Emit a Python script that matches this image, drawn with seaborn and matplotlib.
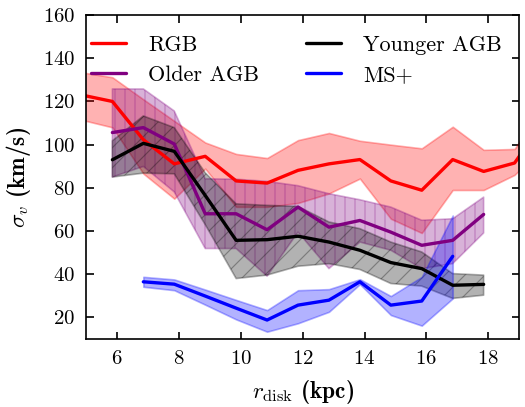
import matplotlib
matplotlib.use("Agg")
import matplotlib.pyplot as plt
import seaborn as sns

# radial bins (kpc)
r_rgb = [4.85, 5.85, 6.85, 7.85, 8.85, 9.85, 10.85, 11.85, 12.85, 13.85, 14.85, 15.85, 16.85, 17.85, 18.85, 19.85]
r_agb = [5.85, 6.85, 7.85, 8.85, 9.85, 10.85, 11.85, 12.85, 13.85, 14.85, 15.85, 16.85, 17.85]
r_ms = [6.85, 7.85, 8.85, 9.85, 10.85, 11.85, 12.85, 13.85, 14.85, 15.85, 16.85]

# RGB
sig_rgb = [123, 120, 102.3, 91.1, 94.6, 83.2, 82.2, 88.1, 91.1, 93.1, 83.2, 78.9, 93.1, 87.6, 91.5, 112]
hi_rgb = [133.5, 131.2, 121, 111, 101, 95.7, 93.8, 102.1, 105.4, 101.8, 100, 98.3, 108.3, 97.6, 98, 120]
lo_rgb = [111.5, 108, 86.6, 75, 88.9, 71.2, 71.2, 73, 77.4, 84.3, 65.7, 59.1, 79, 79, 86, 100]

# Older AGB
sig_old = [105.6, 107.9, 100.3, 68, 68, 60.6, 71.1, 61.8, 64.9, 59.5, 53.4, 55.7, 67.7]
hi_old = [125.8, 125.8, 115.6, 84.2, 84, 83, 81, 77.3, 74.5, 71.1, 65, 65.7, 75.7]
lo_old = [85, 89.9, 78.1, 51.9, 51.9, 39.1, 59.5, 42.6, 54.9, 51.1, 42.6, 44.9, 59.1]

# Younger AGB
sig_young = [93, 100.6, 96.9, 76.5, 55.7, 56, 57.6, 54.9, 51.1, 45.4, 42.6, 34.9, 35.3]
hi_young = [101.8, 113.3, 107.9, 87, 72.6, 71.9, 71.4, 64.2, 61.1, 54.9, 50.3, 40.3, 39.6]
lo_young = [85, 86.8, 86.5, 63, 38, 39.6, 43.7, 44.9, 42.2, 35.7, 34.5, 28.8, 30.3]

# MS+
sig_ms = [36.5, 35.4, 29.9, 24.3, 18.8, 25.7, 28, 36.5, 25.7, 27.6, 48.3]
hi_ms = [38.8, 37.6, 32.9, 28.1, 23.4, 32.6, 33.1, 37.7, 29.9, 38.8, 67.2]
lo_ms = [34.2, 32.6, 25.9, 19.1, 13.4, 17.3, 22.6, 35.4, 21.1, 16.2, 28.8]

sns.set_style("ticks")
plt.rcParams["font.family"] = ["cmr10", "DejaVu Serif"]
plt.rcParams["mathtext.fontset"] = "cm"
plt.rcParams["axes.formatter.use_mathtext"] = True
plt.rcParams["hatch.linewidth"] = 0.7
plt.rcParams["text.color"] = "black"
plt.rcParams["axes.labelcolor"] = "black"
plt.rcParams["xtick.color"] = "black"
plt.rcParams["ytick.color"] = "black"

fig = plt.figure(figsize=(525 / 120, 407 / 120), dpi=120)
ax = fig.add_axes([0.164, 0.167, 0.825, 0.796])

# bands
ax.fill_between(r_rgb, lo_rgb, hi_rgb, facecolor="red", edgecolor="red", alpha=0.3, lw=1)
ax.fill_between(r_agb, lo_old, hi_old, facecolor="purple", edgecolor="purple", alpha=0.3, lw=1, hatch="||")
ax.fill_between(r_agb, lo_young, hi_young, facecolor="black", edgecolor="black", alpha=0.3, lw=1, hatch="//")
ax.fill_between(r_ms, lo_ms, hi_ms, facecolor="blue", edgecolor="blue", alpha=0.3, lw=1)

# lines
sns.lineplot(x=r_rgb, y=sig_rgb, color="red", lw=2, ax=ax, label="RGB")
sns.lineplot(x=r_agb, y=sig_old, color="purple", lw=2, ax=ax, label="Older AGB")
sns.lineplot(x=r_agb, y=sig_young, color="black", lw=2, ax=ax, label="Younger AGB")
sns.lineplot(x=r_ms, y=sig_ms, color="blue", lw=2, ax=ax, label="MS+")

ax.set_xlim(5, 19)
ax.set_ylim(10, 160)
ax.set_xticks([6, 8, 10, 12, 14, 16, 18])
ax.set_yticks([20, 40, 60, 80, 100, 120, 140, 160])
ax.tick_params(direction="in", top=True, right=True, length=4.5, width=1, labelsize=12.5, pad=6.5)
for s in ax.spines.values():
    s.set_linewidth(1)
    s.set_color("black")

ax.set_xlabel(r"$r_{\rm disk}$ (kpc)", fontsize=14, family=["cmb10", "DejaVu Serif"], labelpad=6)
ax.set_ylabel(r"$\sigma_v$ (km/s)", fontsize=14, family=["cmb10", "DejaVu Serif"], labelpad=6)

ax.legend(loc="upper left", bbox_to_anchor=(0.0, 0.95), ncol=2, frameon=False,
          fontsize=13.3, handlelength=1.6, handletextpad=1.0, columnspacing=2.1,
          labelspacing=0.45, borderaxespad=0, borderpad=0.2)

fig.savefig("out.png", dpi=120)
